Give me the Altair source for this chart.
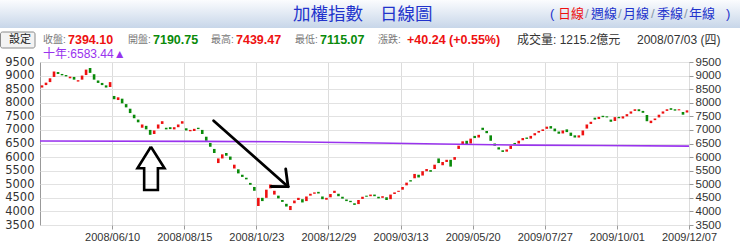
import json
import altair as alt
import pandas as pd

# ---- data ----
opens = [8560, 8650, 8760, 8950, 9130, 9060, 9020, 8900, 8950, 8780,
         8850, 9020, 9280, 9050, 8820, 8730, 8640, 8580, 8250, 8100,
         8150, 7950, 7780, 7560, 7380, 7080, 7150, 7000, 6850, 7050,
         7220, 7080, 7100, 7020, 7100, 7230, 7060, 6950, 6960, 7080,
         7000, 6750, 6520, 6300, 5780, 5950, 6150, 6020, 5580, 5550,
         5350, 5240, 5050, 4900, 4200, 4500, 4500, 4850, 4620, 4580,
         4420, 4280, 4050, 4300, 4420, 4450, 4380, 4580, 4650, 4720,
         4550, 4430, 4520, 4680, 4650, 4540, 4440, 4390, 4300, 4270,
         4460, 4580, 4560, 4620, 4540, 4500, 4520, 4450, 4640, 4720,
         4800, 4960, 5150, 5220, 5350, 5320, 5480, 5520, 5560, 5950,
         5700, 5820, 5900, 5900, 6300, 6450, 6600, 6500, 6780, 6720,
         7080, 6960, 6800, 6500, 6360, 6250, 6200, 6300, 6520, 6500,
         6620, 6720, 6680, 6800, 6900, 6960, 7040, 7140, 7050, 6940,
         6870, 7020, 6900, 6800, 6720, 6800, 7050, 7220, 7450, 7400,
         7520, 7500, 7380, 7330, 7480, 7420, 7500, 7600, 7700, 7760,
         7700, 7550, 7250, 7360, 7460, 7600, 7700, 7800, 7760, 7720,
         7660, 7640]
closes = [8640, 8740, 8900, 9150, 9060, 9010, 8970, 8960, 8850, 8830,
          9000, 9220, 9100, 8850, 8730, 8650, 8560, 8760, 8130, 8200,
          7980, 7830, 7620, 7430, 7280, 7200, 7020, 6820, 6980, 7200,
          7320, 7020, 7030, 7100, 7200, 7320, 6980, 7000, 7040, 7030,
          6850, 6600, 6380, 6150, 5950, 6100, 6050, 5900, 5720, 5400,
          5270, 5180, 4980, 4760, 4500, 4380, 4800, 4990, 4760, 4480,
          4350, 4180, 4200, 4400, 4500, 4330, 4550, 4650, 4700, 4660,
          4450, 4500, 4640, 4760, 4560, 4470, 4380, 4340, 4240, 4420,
          4540, 4540, 4620, 4560, 4480, 4560, 4420, 4620, 4700, 4760,
          4900, 5060, 5100, 5380, 5250, 5480, 5560, 5460, 5720, 5780,
          5820, 5900, 5650, 6000, 6420, 6580, 6450, 6680, 6700, 6820,
          7000, 6880, 6600, 6420, 6280, 6190, 6280, 6420, 6470, 6600,
          6700, 6670, 6780, 6880, 6960, 7020, 7120, 7050, 6950, 6860,
          6980, 6920, 6780, 6720, 6800, 6980, 7200, 7300, 7380, 7480,
          7470, 7460, 7300, 7470, 7430, 7500, 7580, 7680, 7760, 7690,
          7630, 7320, 7340, 7420, 7560, 7680, 7760, 7740, 7710, 7760,
          7560, 7720]
tick_dates = ["2008/06/10", "2008/08/15", "2008/10/23", "2008/12/29",
              "2009/03/13", "2009/05/20", "2009/07/27", "2009/10/01",
              "2009/12/07"]
y_ticks = list(range(3500, 9501, 500))
ma_idx = [0, 40, 60, 80, 100, 120, 140, 162]
ma_val = [6590, 6580, 6565, 6530, 6480, 6440, 6425, 6405]

# annotation arrows (in data units: candle index, index points)
up_arrow_x = [27.68, 31.08, 29.43, 29.43, 26.0, 26.0, 24.33, 27.68]
up_arrow_y = [6382, 5587, 5587, 4788, 4788, 5587, 5587, 6382]
diag_seg = [0, 0, 1, 1, 2, 2]
diag_x = [43.33, 61.93, 61.33, 61.93, 57.75, 61.93]
diag_y = [7339, 4910, 5561, 4910, 4917, 4910]

RED = "#ee1111"
GREEN = "#0a8a0a"
PURPLE = "#9933ee"
FONT = "Liberation Sans, Noto Sans CJK TC"

N = len(closes)
step = N // len(tick_dates)
candles = pd.DataFrame({
    "t": [i + 0.5 for i in range(N)],
    "open": opens,
    "close": closes,
})
candles["dir"] = ["up" if c >= o else "down" for o, c in zip(opens, closes)]

xscale = alt.Scale(domain=[0, N], nice=False, zero=False)
yscale = alt.Scale(domain=[3500, 9500], nice=False, zero=False)

label_expr = json.dumps(tick_dates) + f"[round(datum.value/{step})-1]"
xaxis = alt.Axis(values=[step * (k + 1) for k in range(len(tick_dates))],
                 labelExpr=label_expr, title=None, grid=True,
                 gridColor="#dcdcdc", domain=False, tickSize=4,
                 tickColor="#999999", labelFont=FONT, labelFontSize=11,
                 labelColor="#333333", labelPadding=2, labelFlush=False)
yaxis_left = alt.Axis(values=y_ticks, format="d", title=None, grid=True,
                      gridColor="#e2e2e2", domain=False, ticks=False,
                      labelPadding=6, labelFont="DejaVu Sans", labelFontSize=11.5,
                      labelColor="#333333")
yaxis_right = alt.Axis(values=y_ticks, format="d", title=None, grid=False,
                       orient="right", domain=False, tickSize=4,
                       tickColor="#999999", labelPadding=2, labelFont=FONT,
                       labelFontSize=11.5, labelColor="#333333")

candle_layer = alt.Chart(candles).mark_rule(strokeWidth=2.6).encode(
    x=alt.X("t:Q", scale=xscale, axis=xaxis),
    y=alt.Y("open:Q", scale=yscale, axis=yaxis_left),
    y2="close:Q",
    color=alt.Color("dir:N", scale=alt.Scale(domain=["up", "down"], range=[RED, GREEN]),
                    legend=None),
)

ma_df = pd.DataFrame({"t": ma_idx, "ma": ma_val})
ma_layer = alt.Chart(ma_df).mark_line(color=PURPLE, strokeWidth=1.6).encode(
    x=alt.X("t:Q", scale=xscale),
    y=alt.Y("ma:Q", scale=yscale, axis=yaxis_right),
)

up_df = pd.DataFrame({"x": up_arrow_x, "y": up_arrow_y, "o": list(range(len(up_arrow_x)))})
up_layer = alt.Chart(up_df).mark_line(color="black", strokeWidth=2.6, strokeJoin="miter").encode(
    x=alt.X("x:Q", scale=xscale),
    y=alt.Y("y:Q", scale=yscale, axis=None),
    order="o:Q",
)

diag_df = pd.DataFrame({"x": diag_x, "y": diag_y, "seg": diag_seg,
                        "o": list(range(len(diag_x)))})
diag_layer = alt.Chart(diag_df).mark_line(color="black", strokeWidth=2.8, strokeCap="round").encode(
    x=alt.X("x:Q", scale=xscale),
    y=alt.Y("y:Q", scale=yscale, axis=None),
    detail="seg:N",
    order="o:Q",
)

# ---- header (positions relative to plot origin at 40,62) ----
one = pd.DataFrame({"a": [0]})
OX, OY = 40, 62

band = alt.Chart(one).mark_rect(
    color=alt.LinearGradient(gradient="linear",
                             stops=[alt.GradientStop(color="#fbfcfe", offset=0),
                                    alt.GradientStop(color="#c7d6e9", offset=1)],
                             x1=0, x2=0, y1=0, y2=1)
).encode(x=alt.value(-OX), x2=alt.value(740 - OX), y=alt.value(-OY), y2=alt.value(28 - OY))

button = alt.Chart(one).mark_rect(fill="#f3f3f3", stroke="#8a8a8a", strokeWidth=1,
                                  cornerRadius=2).encode(
    x=alt.value(0.5 - OX), x2=alt.value(35 - OX), y=alt.value(32 - OY), y2=alt.value(48 - OY))

texts = [
    # text, x, y, color, size, weight, font
    ("加權指數", 293, 15, "#2233cc", 17.5, "normal", "Noto Sans CJK TC"),
    ("日線圖", 380, 15, "#2233cc", 17.5, "normal", "Noto Sans CJK TC"),
    ("(", 550, 14, "#2233cc", 13, "normal", FONT),
    ("日線", 558, 14, RED, 13, "normal", "Noto Sans CJK TC"),
    ("/", 585, 14, "#8899aa", 13, "normal", FONT),
    ("週線", 591, 14, "#2233cc", 13, "normal", "Noto Sans CJK TC"),
    ("/", 618, 14, "#8899aa", 13, "normal", FONT),
    ("月線", 623, 14, "#2233cc", 13, "normal", "Noto Sans CJK TC"),
    ("/", 651, 14, "#8899aa", 13, "normal", FONT),
    ("季線", 657, 14, "#2233cc", 13, "normal", "Noto Sans CJK TC"),
    ("/", 684, 14, "#8899aa", 13, "normal", FONT),
    ("年線", 689, 14, "#2233cc", 13, "normal", "Noto Sans CJK TC"),
    (")", 726, 14, "#2233cc", 13, "normal", FONT),
    ("設定", 9, 40, "#222222", 11, "normal", "Noto Sans CJK TC"),
    ("收盤:", 43, 40, "#777777", 10, "normal", FONT),
    ("7394.10", 68, 40, RED, 12.5, "bold", FONT),
    ("開盤:", 128, 40, "#777777", 10, "normal", FONT),
    ("7190.75", 153, 40, GREEN, 12.5, "bold", FONT),
    ("最高:", 211, 40, "#777777", 10, "normal", FONT),
    ("7439.47", 236, 40, RED, 12.5, "bold", FONT),
    ("最低:", 295, 40, "#777777", 10, "normal", FONT),
    ("7115.07", 320, 40, GREEN, 12.5, "bold", FONT),
    ("漲跌:", 378, 40, "#777777", 10, "normal", FONT),
    ("+40.24  (+0.55%)", 407, 40, RED, 12.5, "bold", FONT),
    ("成交量: 1215.2億元", 517, 40, "#333333", 12, "normal", FONT),
    ("2008/07/03 (四)", 637, 40, "#333333", 12, "normal", FONT),
    ("十年:6583.44▲", 43, 54, PURPLE, 12, "normal", FONT),
]
text_layers = []
for t, x, y, c, s, w, f in texts:
    text_layers.append(
        alt.Chart(one).mark_text(text=t, align="left", baseline="middle", color=c,
                                 fontSize=s, fontWeight=w, font=f).encode(
            x=alt.value(x - OX), y=alt.value(y - OY))
    )

chart = alt.layer(
    band, button, candle_layer, ma_layer, up_layer, diag_layer, *text_layers
).resolve_scale(y="independent").properties(
    width=649, height=163,
    autosize=alt.AutoSizeParams(type="none"),
    padding={"left": OX, "top": OY, "right": 740 - OX - 649, "bottom": 251 - OY - 163},
    background="white",
).configure_view(stroke="#999999", strokeWidth=1)

chart.save("out.html", embed_options={"renderer": "svg", "actions": False})
